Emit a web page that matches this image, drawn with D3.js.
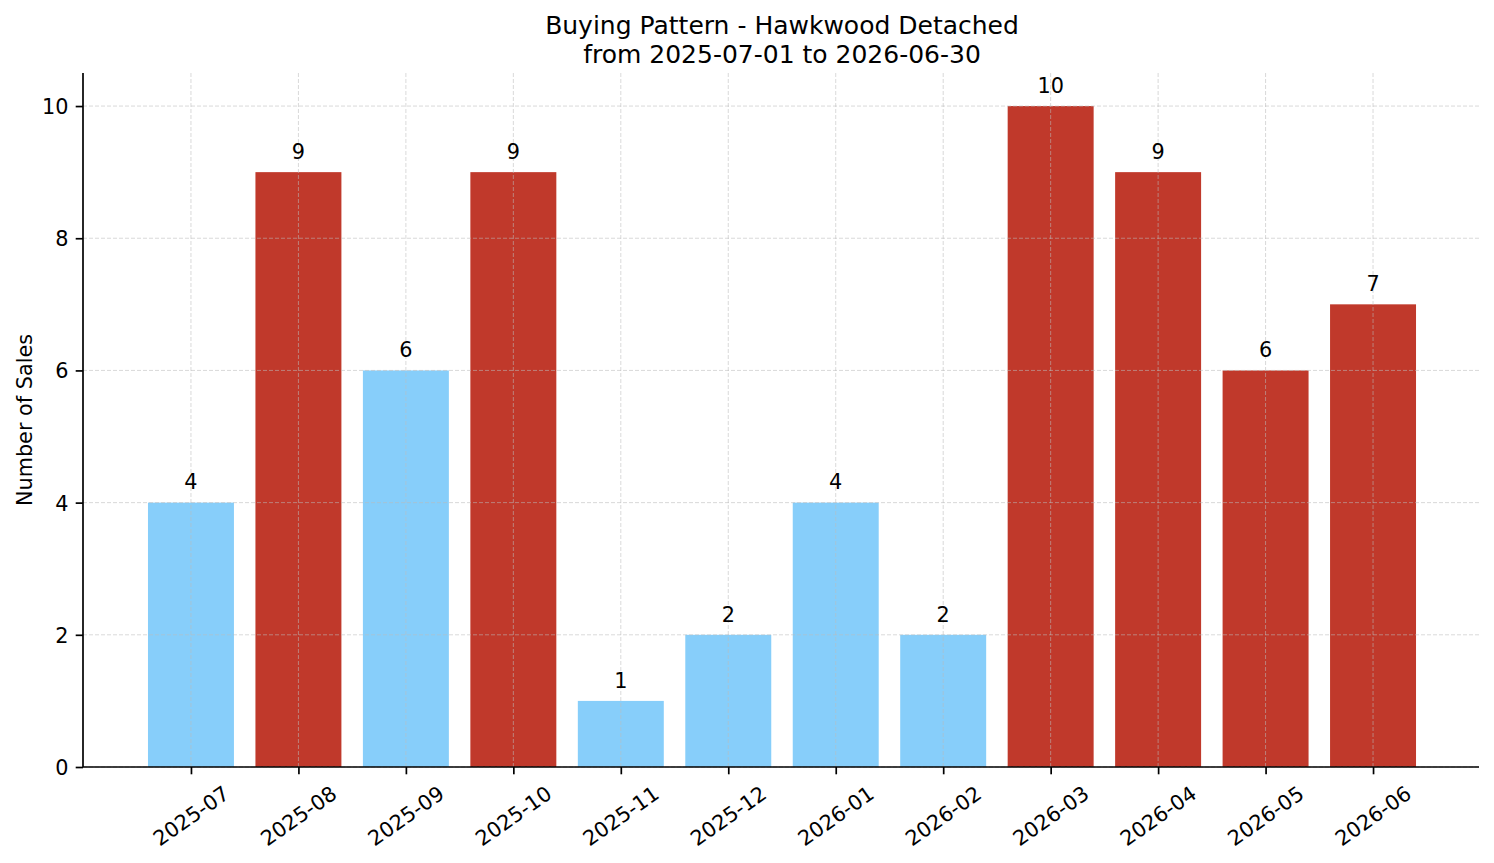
<!DOCTYPE html>
<html>
<head>
<meta charset="utf-8">
<script src="https://cdn.jsdelivr.net/npm/d3@7"></script>
<style>
  body { margin: 0; background: #fff; }
  svg text { font-family: "DejaVu Sans", sans-serif; fill: #000; }
</style>
</head>
<body>
<svg id="chart" width="1494" height="863"></svg>
<script>
// data
const months = ["2025-07", "2025-08", "2025-09", "2025-10", "2025-11", "2025-12",
  "2026-01", "2026-02", "2026-03", "2026-04", "2026-05", "2026-06"];
const sales = [4, 9, 6, 9, 1, 2, 4, 2, 10, 9, 6, 7];
// true = drawn red (busy month), false = light blue
const busy = [false, true, false, true, false, false, false, false, true, true, true, true];
const yTicks = [0, 2, 4, 6, 8, 10];

const COLORS = { busy: "#c0392b", quiet: "#87cefa" };
const M = { left: 83, right: 1479, top: 73, bottom: 767 };
const FONT = 20.8;

const svg = d3.select("#chart");

// index scale, one band either side like matplotlib's auto margins
const x = d3.scaleLinear().domain([-1, months.length]).range([M.left + 0.5, M.right + 1.5]);
const y = d3.scaleLinear().domain([0, 10.5]).range([M.bottom, M.top]);
const barW = (x(1) - x(0)) * 0.8;

// bars
svg.append("g")
  .selectAll("rect")
  .data(sales)
  .join("rect")
  .attr("x", (d, i) => x(i) - barW / 2)
  .attr("y", (d) => y(d))
  .attr("width", barW)
  .attr("height", (d) => y(0) - y(d))
  .attr("fill", (d, i) => (busy[i] ? COLORS.busy : COLORS.quiet));

// grid sits on top of the bars
const grid = svg.append("g")
  .attr("stroke", "#bbbbbb")
  .attr("stroke-opacity", 0.7)
  .attr("stroke-width", 0.8)
  .attr("stroke-dasharray", "4,2");

grid.selectAll("line.gy")
  .data(yTicks)
  .join("line")
  .attr("class", "gy")
  .attr("x1", M.left).attr("x2", M.right)
  .attr("y1", (d) => y(d)).attr("y2", (d) => y(d));

grid.selectAll("line.gx")
  .data(months)
  .join("line")
  .attr("class", "gx")
  .attr("x1", (d, i) => x(i)).attr("x2", (d, i) => x(i))
  .attr("y1", M.top).attr("y2", M.bottom);

// value labels
svg.append("g")
  .selectAll("text")
  .data(sales)
  .join("text")
  .attr("x", (d, i) => x(i))
  .attr("y", (d) => y(d + 0.2))
  .attr("text-anchor", "middle")
  .style("font-size", `${FONT}px`)
  .text((d) => d);

// y axis
const yAxis = svg.append("g")
  .attr("transform", `translate(${M.left},0)`)
  .call(d3.axisLeft(y).tickValues(yTicks).tickSize(7.3).tickPadding(7.3).tickFormat(d3.format("d")));
yAxis.select(".domain").attr("stroke", "#000").attr("stroke-width", 1.7)
  .attr("d", `M0,${M.bottom}V${M.top}`);
yAxis.selectAll(".tick line").attr("stroke", "#000").attr("stroke-width", 1.7);
yAxis.selectAll(".tick text")
  .style("font-size", `${FONT}px`)
  .attr("font-family", null)
  .attr("dy", "0.36em");

// x axis
const xAxis = svg.append("g")
  .attr("transform", `translate(0,${M.bottom})`)
  .call(d3.axisBottom(x).tickValues(d3.range(months.length)).tickSize(7.3).tickFormat((i) => months[i]));
xAxis.select(".domain").attr("stroke", "#000").attr("stroke-width", 1.7)
  .attr("d", `M${M.left},0H${M.right}`);
xAxis.selectAll(".tick line").attr("stroke", "#000").attr("stroke-width", 1.7);

// rotated labels, centred under each tick like ha='center'
xAxis.selectAll(".tick text").each(function () {
  const t = d3.select(this);
  t.attr("font-family", null).style("font-size", `${FONT}px`)
    .attr("y", null).attr("dy", null);
  const w = this.getComputedTextLength();
  const h = FONT * 1.17;
  const ang = 35 * Math.PI / 180;
  const boxH = w * Math.sin(ang) + h * Math.cos(ang);
  const cy = 7.3 + 7.3 + boxH / 2;
  t.attr("text-anchor", "middle")
    .attr("transform", `translate(0,${cy}) rotate(-35)`)
    .attr("dy", "0.32em");
});

// y label
svg.append("text")
  .attr("transform", `translate(32,${(M.top + M.bottom) / 2}) rotate(-90)`)
  .attr("text-anchor", "middle")
  .style("font-size", `${FONT}px`)
  .text("Number of Sales");

// title
const title = svg.append("text")
  .attr("x", (M.left + M.right) / 2)
  .attr("text-anchor", "middle")
  .style("font-size", "25px");
title.append("tspan").attr("x", (M.left + M.right) / 2 + 1).attr("y", 34)
  .text("Buying Pattern - Hawkwood Detached");
title.append("tspan").attr("x", (M.left + M.right) / 2 + 1).attr("y", 62.5)
  .text("from 2025-07-01 to 2026-06-30");
</script>
</body>
</html>
